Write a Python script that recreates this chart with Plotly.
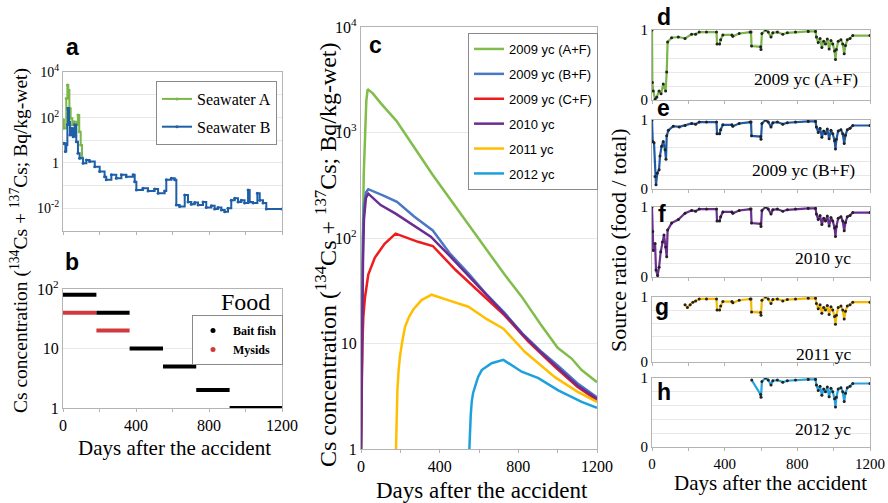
import plotly.graph_objects as go

# ---------------- DATA ----------------
# Panel a: seawater concentrations (Bq/kg)
swA_days = [0, 5, 18, 24, 29, 35, 42, 51, 60, 73, 82, 89, 97, 104]
swA_vals = [80, 34, 700, 2750, 1660, 260, 93, 48, 66, 48, 132, 24, 6.2, 1.9]

swB_days = [0, 5, 13, 18, 24, 27, 33, 38, 46, 55, 64, 73, 82, 91, 110, 128, 146, 174, 201, 228,
            237, 265, 292, 320, 347, 384, 393, 402, 438, 466, 502, 521, 557, 566, 594, 612, 621,
            639, 667, 685, 703, 722, 740, 767, 785, 813, 831, 849, 868, 886, 904, 922, 941, 959,
            977, 995, 1014, 1023, 1041, 1065, 1078, 1096, 1114, 1200]
swB_vals = [7, 7.4, 3.2, 6.2, 48, 260, 66, 17, 34, 14.5, 48, 8.7, 2.7, 1.6, 0.98, 1.35, 1.15, 0.69,
            0.42, 0.25, 0.18, 0.30, 0.21, 0.30, 0.25, 0.30, 0.15, 0.065, 0.076, 0.058, 0.071, 0.046,
            0.058, 0.18, 0.21, 0.18, 0.014, 0.012, 0.039, 0.019, 0.015, 0.018, 0.014, 0.019, 0.011,
            0.013, 0.0093, 0.011, 0.0085, 0.0071, 0.010, 0.023, 0.028, 0.019, 0.023, 0.017, 0.065,
            0.019, 0.017, 0.046, 0.023, 0.017, 0.0093, 0.0093]

# Panel b: food concentrations (segments: start, end, value)
bait_start = [0, 183, 365, 548, 730, 913]
bait_end = [183, 365, 548, 730, 913, 1200]
bait_vals = [80, 40, 10, 5, 2, 1]
mysid_start = [0, 183]
mysid_end = [183, 365]
mysid_vals = [40, 20]

# Panel c: fish concentrations
c_names = ["2009 yc (A+F)", "2009 yc (B+F)", "2009 yc (C+F)", "2010 yc", "2011 yc", "2012 yc"]
gA_days = [0, 3, 7, 10, 14, 20, 27, 34, 60, 100, 180, 365, 547, 730, 817, 913, 1000, 1071, 1122, 1200]
gA_vals = [1, 8, 25, 120, 400, 1100, 2000, 2570, 2350, 1900, 1290, 395, 134, 45, 27.8, 15.2, 9.1, 7.2, 5.6, 4.3]
gB_days = [0, 5, 10, 15, 25, 37, 80, 120, 183, 270, 365, 450, 547, 640, 730, 820, 913, 1000, 1100, 1200]
gB_vals = [1, 20, 100, 200, 270, 290, 270, 250, 220, 160, 118, 72, 46, 29, 19.5, 12.5, 8.5, 6.2, 4.2, 3.1]
gC_days = [0, 3, 7, 12, 20, 37, 70, 120, 176, 290, 365, 480, 600, 730, 850, 986, 1100, 1200]
gC_vals = [1, 3, 10, 18, 27, 45, 65, 88, 110, 92, 84, 50, 31, 18.5, 10.5, 6.0, 3.9, 2.9]
g10_days = [0, 5, 10, 15, 25, 37, 100, 176, 270, 355, 450, 547, 640, 730, 820, 913, 1000, 1100, 1200]
g10_vals = [1, 10, 60, 150, 240, 263, 205, 170, 130, 103, 68, 44, 28.5, 19, 12.3, 8.3, 5.9, 4.0, 3.0]
g11_days = [178, 181, 185, 191, 198, 210, 224, 245, 266, 308, 359, 450, 546, 640, 724, 834, 986, 1100, 1200]
g11_vals = [1, 2.0, 3.6, 5.5, 7.5, 10.5, 14.4, 18, 21, 25.8, 29, 25.5, 22.3, 17, 13.8, 8.3, 4.8, 3.5, 2.8]
g12_days = [551, 554, 558, 563, 570, 580, 595, 614, 664, 724, 817, 902, 1003, 1122, 1200]
g12_vals = [1, 1.5, 2.1, 2.8, 3.4, 3.9, 4.8, 5.6, 6.5, 7.0, 5.4, 4.7, 3.6, 2.8, 2.45]

# Panels d-h: source ratio (food / total)
late_days = [240, 260, 300, 355, 358, 372, 378, 390, 440, 445, 480, 540, 545, 548, 598, 600, 605,
             625, 640, 655, 665, 690, 720, 745, 790, 860, 900, 905, 915, 925, 935, 945, 955, 965,
             975, 985, 995, 1005, 1010, 1015, 1025, 1040, 1050, 1058, 1065, 1075, 1090, 1105, 1200]
late_vals = [0.94, 0.97, 0.97, 0.97, 0.80, 0.80, 0.86, 0.93, 0.93, 0.91, 0.95, 0.97, 0.97, 0.77,
             0.76, 0.72, 0.95, 1.00, 0.97, 0.90, 0.96, 0.97, 0.94, 0.96, 0.97, 0.98, 0.98, 0.90,
             0.82, 0.88, 0.75, 0.84, 0.80, 0.87, 0.73, 0.85, 0.80, 0.70, 0.58, 0.72, 0.84, 0.86,
             0.80, 0.66, 0.78, 0.86, 0.88, 0.92, 0.92]

d_head_days = [0, 2, 7, 17, 26, 39, 50, 62, 75, 81, 86, 108, 145, 182, 218]
d_head_vals = [1.0, 0.25, 0.13, 0.01, 0.04, 0.13, 0.09, 0.23, 0.13, 0.40, 0.83, 0.89, 0.90, 0.88, 0.94]
e_head_days = [0, 4, 11, 17, 22, 29, 39, 44, 53, 62, 72, 77, 81, 90, 117, 150, 182, 218]
e_head_vals = [1.0, 0.69, 0.67, 0.18, 0.06, 0.23, 0.28, 0.48, 0.62, 0.69, 0.57, 0.43, 0.77, 0.85,
               0.91, 0.90, 0.92, 0.95]
f_head_days = [0, 4, 7, 17, 22, 31, 39, 48, 57, 66, 75, 81, 86, 108, 145, 182, 218]
f_head_vals = [1.0, 0.65, 0.38, 0.48, 0.10, 0.02, 0.14, 0.36, 0.50, 0.60, 0.43, 0.29, 0.67, 0.77,
               0.82, 0.91, 0.95]
g_head_days = [182, 195, 210, 225]
g_head_vals = [0.88, 0.84, 0.88, 0.92]
h_head_days = [549]
h_head_vals = [0.97]

ratio_labels = ["2009 yc (A+F)", "2009 yc (B+F)", "2010 yc", "2011 yc", "2012 yc"]
panel_letters = ["a", "b", "c", "d", "e", "f", "g", "h"]
x_ticks = [0, 200, 400, 600, 800, 1000, 1200]
x_ticktext = ["0", " ", "400", " ", "800", " ", "1200"]

# ---------------- STYLE ----------------
W, H = 888, 503
SERIF = "Liberation Serif"
SANS = "Liberation Sans"
LINE = "#b4b4b4"
GRID = "#e8e8e8"

def xd(a, b):
    return [a / W, b / W]

def yd(top, bottom):
    return [1 - bottom / H, 1 - top / H]

fig = go.Figure()

# Panel a
fig.add_trace(go.Scatter(x=swA_days, y=swA_vals, name="Seawater A", mode="lines+markers",
                         line=dict(color="#7ab648", width=2, shape="hv"), marker=dict(size=3),
                         xaxis="x", yaxis="y", legend="legend", legendgroup="a1"))
fig.add_trace(go.Scatter(x=swB_days, y=swB_vals, name="Seawater B", mode="lines+markers",
                         line=dict(color="#1f5fa8", width=2, shape="hv"), marker=dict(size=3),
                         xaxis="x", yaxis="y", legend="legend", legendgroup="a2"))

# Panel b
def seg_xy(starts, ends, vals):
    xs, ys = [], []
    for s, e, v in zip(starts, ends, vals):
        xs += [s, e, None]
        ys += [v, v, None]
    return xs, ys

mx, my = seg_xy(mysid_start, mysid_end, mysid_vals)
bx, by = seg_xy(bait_start, bait_end, bait_vals)
fig.add_trace(go.Scatter(x=mx, y=my, mode="lines", line=dict(color="#d03a3a", width=4),
                         xaxis="x2", yaxis="y2", showlegend=False))
fig.add_trace(go.Scatter(x=bx, y=by, mode="lines", line=dict(color="black", width=4),
                         xaxis="x2", yaxis="y2", showlegend=False))
fig.add_trace(go.Scatter(x=[None], y=[None], mode="markers", name="<b>Bait fish</b>",
                         marker=dict(color="black", size=5), xaxis="x2", yaxis="y2",
                         legend="legend2"))
fig.add_trace(go.Scatter(x=[None], y=[None], mode="markers", name="<b>Mysids</b>",
                         marker=dict(color="#d03a3a", size=5), xaxis="x2", yaxis="y2",
                         legend="legend2"))

# Panel c
c_series = [(gA_days, gA_vals, "#80bd4a"), (gB_days, gB_vals, "#4a78c4"),
            (gC_days, gC_vals, "#ee1c1c"), (g10_days, g10_vals, "#6b2d90"),
            (g11_days, g11_vals, "#ffbf00"), (g12_days, g12_vals, "#1ea0dc")]
for i, (dd, vv, col) in enumerate(c_series):
    fig.add_trace(go.Scatter(x=dd, y=vv, name=c_names[i], mode="lines",
                             line=dict(color=col, width=2.5),
                             xaxis="x3", yaxis="y3", legend="legend3", legendgroup="c%d" % i))

# Panels d-h
def tail_from(day0):
    idx = [k for k, d in enumerate(late_days) if d > day0]
    return [late_days[k] for k in idx], [late_vals[k] for k in idx]

heads = [(d_head_days, d_head_vals), (e_head_days, e_head_vals), (f_head_days, f_head_vals),
         (g_head_days, g_head_vals), (h_head_days, h_head_vals)]
r_colors = ["#7ab648", "#1f5aa6", "#6b2d90", "#f5b800", "#29a3dc"]
for i, (hd, hv) in enumerate(heads):
    td, tv = tail_from(hd[-1])
    fig.add_trace(go.Scatter(x=hd + td, y=hv + tv, mode="lines+markers",
                             line=dict(color=r_colors[i], width=2.2),
                             marker=dict(color="#222222", size=3),
                             xaxis="x%d" % (i + 4), yaxis="y%d" % (i + 4), showlegend=False))

# ---------------- AXES ----------------
def xaxis(dom, anchor, labels=True, size=16):
    return dict(domain=dom, anchor=anchor, range=[0, 1200], tickmode="array", tickvals=x_ticks,
                ticktext=x_ticktext if labels else [" "] * len(x_ticks),
                showline=True, mirror=True, linecolor=LINE, linewidth=1.2,
                ticks="outside", ticklen=3, tickcolor=LINE, showgrid=False, zeroline=False,
                automargin=False,
                tickfont=dict(family=SERIF, size=size, color="black"))

def yaxis_log(dom, anchor, rng, vals, texts, size=14):
    return dict(domain=dom, anchor=anchor, type="log", range=rng, tickmode="array",
                tickvals=vals, ticktext=texts,
                showline=True, mirror=True, linecolor=LINE, linewidth=1.2, ticks="",
                showgrid=True, gridcolor=GRID, gridwidth=1.2, zeroline=False, automargin=False,
                tickfont=dict(family=SERIF, size=size, color="black"))

def yaxis_ratio(dom, anchor):
    return dict(domain=dom, anchor=anchor, range=[0, 1], tickmode="array",
                tickvals=[0, 0.2, 0.4, 0.6, 0.8, 1],
                ticktext=["0", " ", " ", " ", " ", "1"],
                showline=True, mirror=True, linecolor=LINE, linewidth=1.2, ticks="",
                showgrid=True, gridcolor=GRID, gridwidth=1.2, zeroline=False, automargin=False,
                tickfont=dict(family=SERIF, size=15, color="black"))

a_vals = [1e-3, 1e-2, 1e-1, 1, 10, 100, 1000, 1e4]
a_text = [" ", "10<sup>-2</sup>", " ", "1", " ", "10<sup>2</sup>", " ", "10<sup>4</sup>"]

layout = dict(
    width=W, height=H, autosize=False,
    margin=dict(l=0, r=0, t=0, b=0, pad=0, autoexpand=False),
    paper_bgcolor="white", plot_bgcolor="white",
    xaxis=xaxis(xd(63, 282), "y", labels=False),
    yaxis=yaxis_log(yd(72.3, 231), "x", [-3, 4], a_vals, a_text),
    xaxis2=xaxis(xd(63, 282), "y2"),
    yaxis2=yaxis_log(yd(289, 408), "x2", [0, 2], [1, 10, 100], ["1", "10", "10<sup>2</sup>"], size=16),
    xaxis3=xaxis(xd(361, 597), "y3"),
    yaxis3=yaxis_log(yd(27, 449), "x3", [0, 4], [1, 10, 100, 1000, 10000],
                     ["1", "10", "10<sup>2</sup>", "10<sup>3</sup>", "10<sup>4</sup>"], size=16),
)
r_dom = [(30, 100), (120, 189), (207, 277), (297, 362), (378, 447)]
for i, (t, b) in enumerate(r_dom):
    n = i + 4
    layout["xaxis%d" % n] = xaxis(xd(652, 870), "y%d" % n, labels=(n == 8), size=15)
    layout["yaxis%d" % n] = yaxis_ratio(yd(t, b), "x%d" % n)

layout["legend"] = dict(x=156 / W, y=1 - 81 / H, xanchor="left", yanchor="top",
                        bgcolor="white", bordercolor="#8a8a8a", borderwidth=1,
                        font=dict(family=SERIF, size=16, color="black"),
                        tracegroupgap=4, itemwidth=30)
layout["legend2"] = dict(x=192 / W, y=1 - 315 / H, xanchor="left", yanchor="top",
                         bgcolor="white", bordercolor="#8a8a8a", borderwidth=1,
                         font=dict(family=SERIF, size=12, color="black"),
                         tracegroupgap=0, itemwidth=30)
layout["legend3"] = dict(x=468 / W, y=1 - 33 / H, xanchor="left", yanchor="top",
                         bgcolor="white", bordercolor="#8a8a8a", borderwidth=1,
                         font=dict(family=SANS, size=13, color="black"),
                         tracegroupgap=5, itemwidth=30)
fig.update_layout(**layout)

# ---------------- ANNOTATIONS ----------------
ann = []

def note(text, px, py, size, family=SERIF, angle=0):
    ann.append(dict(text=text, x=px / W, y=1 - py / H, xref="paper", yref="paper",
                    xanchor="center", yanchor="middle", textangle=angle, showarrow=False,
                    font=dict(family=family, size=size, color="black")))

letter_pos = [(72, 47), (72, 262), (375, 45), (664, 17), (663, 108), (662, 214), (662, 307), (664, 392)]
for L, (px, py) in zip(panel_letters, letter_pos):
    note("<b>%s</b>" % L, px, py, 23, family=SANS)
ratio_pos = [(806, 79), (803, 170), (823, 258), (823, 354), (823, 429)]
for lab, (px, py) in zip(ratio_labels, ratio_pos):
    note(lab, px, py, 17.5)
note("Food", 245, 302, 24)
ytitle = "Cs concentration (<sup>134</sup>Cs + <sup>137</sup>Cs; Bq/kg-wet)"
note(ytitle, 19, 241, 19.5, angle=-90)
note(ytitle, 326, 255, 24, angle=-90)
note("Source ratio (food / total)", 618, 240, 22, angle=-90)
for (cx, cy, sz) in [(174, 448, 21), (482, 490, 23), (770, 483, 21)]:
    note("Days after the accident", cx, cy, sz)
fig.update_layout(annotations=ann)

fig.write_html("out.html")
